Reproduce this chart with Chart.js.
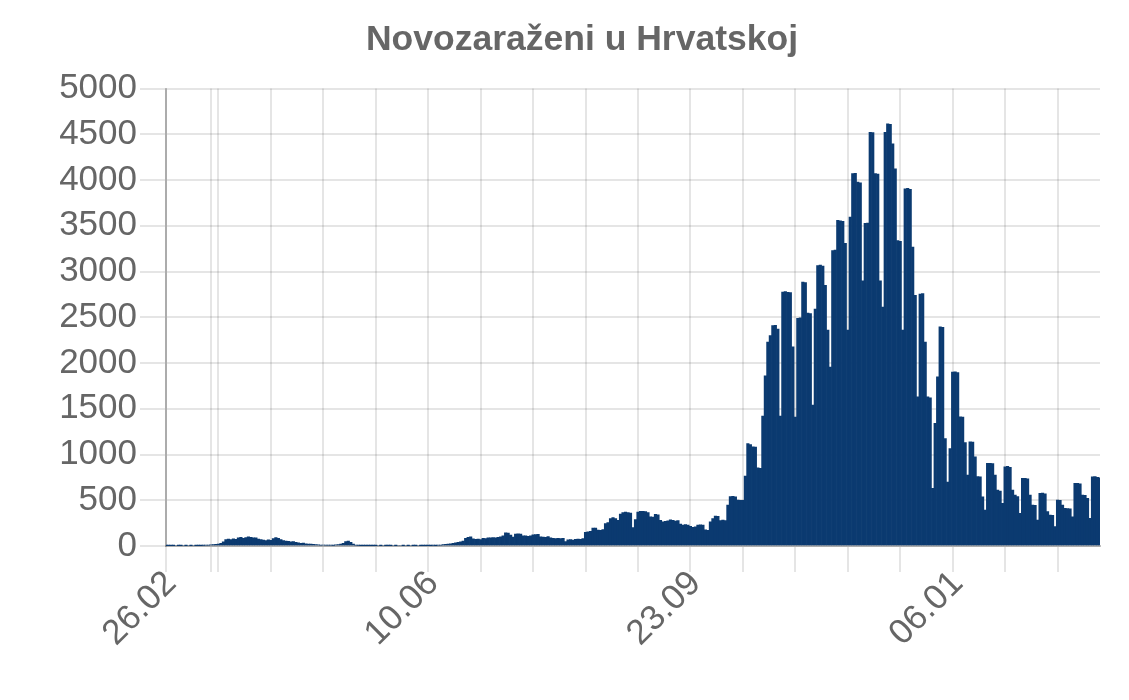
<!DOCTYPE html>
<html>
<head>
<meta charset="utf-8">
<script src="https://cdn.jsdelivr.net/npm/chart.js@4/dist/chart.umd.min.js"></script>
<style>
html,body{margin:0;padding:0;background:#ffffff;}
#wrap{width:1129px;height:700px;}
</style>
</head>
<body>
<div id="wrap"><canvas id="c" width="1129" height="700"></canvas></div>
<script>
// ---- data ----
const chartTitle = 'Novozaraženi u Hrvatskoj';
const startDate = '2020-02-26';          // first category (one bar per day)
const labeledDates = ['26.02.2020', '10.06.2020', '23.09.2020', '06.01.2021']; // x tick labels shown
const yMin = 0;
const yMax = 5000;
const yStep = 500;
const newCases = [
  1,1,2,1,0,1,1,0,1,0,
  1,0,2,3,4,6,8,10,12,15,
  18,22,30,45,70,75,70,78,72,90,
  95,85,92,100,96,88,90,75,70,65,
  60,68,62,80,92,85,70,60,55,50,
  45,48,40,35,30,32,25,22,20,18,
  15,12,10,11,9,8,10,7,12,15,
  20,30,48,55,40,22,10,6,4,3,
  2,3,1,2,1,0,1,0,1,2,
  1,0,1,0,0,1,0,1,0,2,
  1,0,1,2,1,2,3,5,4,8,
  10,15,18,20,25,30,35,40,45,55,
  85,95,100,78,72,75,70,85,80,88,
  90,92,88,95,100,110,145,142,120,98,
  130,133,130,112,110,105,112,122,125,128,
  100,98,95,102,88,85,80,85,82,84,
  48,68,70,66,72,75,74,80,150,155,
  160,195,195,175,170,180,245,255,300,310,
  300,280,350,365,370,365,360,200,290,370,
  380,378,375,365,320,315,345,340,280,265,
  270,275,285,280,272,278,240,230,235,228,
  215,205,210,230,232,228,178,172,265,300,
  327,325,277,282,278,448,540,542,538,502,
  498,500,765,1120,1110,1085,1080,855,850,1420,
  1860,2230,2300,2410,2412,2370,1420,2776,2780,2772,
  2770,2176,1410,2490,2495,2886,2880,2545,2540,1540,
  2590,3065,3070,3060,2850,2360,1957,3230,3235,3560,
  3555,3550,3308,2360,3595,4070,4075,3977,3970,2900,
  3526,3530,4523,4520,4070,4065,2900,2612,4523,4614,
  4610,4396,4123,3340,3330,2360,3905,3910,3900,3268,
  2740,1630,2755,2760,2230,1630,1620,630,1340,1850,
  2395,2390,1175,700,1066,1900,1903,1895,1412,1408,
  1130,775,1138,1135,975,760,755,538,393,903,
  905,900,775,611,600,466,866,870,860,611,
  557,540,357,739,740,735,557,448,445,284,
  575,578,570,375,338,335,211,502,500,448,
  411,410,405,320,684,684,680,557,555,520,
  302,757,760,750,745
];

// ---- categories: one per day from startDate ----
function pad(n){ return (n < 10 ? '0' : '') + n; }
const categories = [];
{
  const d0 = new Date(startDate + 'T12:00:00Z');
  for (let i = 0; i < newCases.length; i++) {
    const d = new Date(d0.getTime() + i * 86400000);
    categories.push(pad(d.getUTCDate()) + '.' + pad(d.getUTCMonth() + 1) + '.' + d.getUTCFullYear());
  }
}

// ---- styling ----
const FONT = "'Liberation Sans', Arial, Helvetica, sans-serif";
const TEXT = '#666666';
const BAR = '#0b3a70';
const GRID = 'rgba(0,0,0,0.1)';
const AXIS = 'rgba(0,0,0,0.25)';
const GRID_EVERY = 21;     // vertical grid every 21 days
const EXTRA_GRID = 18;     // an extra early vertical gridline seen in the reference

// shift the title block so it is centred where the reference places it
const titleShift = {
  id: 'titleShift',
  afterLayout(chart) {
    const t = chart.titleBlock;
    if (t) { t.left += 64; }
  }
};

new Chart(document.getElementById('c'), {
  type: 'bar',
  data: {
    labels: categories,
    datasets: [{
      data: newCases,
      backgroundColor: BAR,
      borderWidth: 0,
      barPercentage: 1,
      categoryPercentage: 1
    }]
  },
  plugins: [titleShift],
  options: {
    responsive: false,
    animation: false,
    devicePixelRatio: 1,
    layout: { padding: { left: 0, right: 29, top: 0, bottom: 0 } },
    plugins: {
      legend: { display: false },
      tooltip: { enabled: false },
      title: {
        display: true,
        text: chartTitle,
        color: TEXT,
        font: { family: FONT, size: 35.5, weight: 'bold', lineHeight: 1.2 },
        padding: { top: 19, bottom: 27 }
      }
    },
    scales: {
      x: {
        offset: false,
        grid: {
          offset: false,
          lineWidth: 2,
          tickLength: 26,
          color: (ctx) => (ctx.index % GRID_EVERY === 0 || ctx.index === EXTRA_GRID) ? GRID : 'rgba(0,0,0,0)'
        },
        border: { display: true, color: AXIS, width: 2 },
        ticks: {
          autoSkip: false,
          maxRotation: 45,
          minRotation: 45,
          padding: -9,
          labelOffset: 5,
          color: TEXT,
          font: { family: FONT, size: 35 },
          callback: function (value) {
            const lab = this.getLabelForValue(value);
            return labeledDates.includes(lab) ? lab.slice(0, 5) : '';
          }
        },
        afterFit: (s) => { s.height = 154; }
      },
      y: {
        min: yMin,
        max: yMax,
        grid: { color: GRID, lineWidth: 2, tickLength: 26 },
        border: { display: true, color: AXIS, width: 2 },
        ticks: {
          stepSize: yStep,
          padding: 3,
          color: TEXT,
          font: { family: FONT, size: 35 },
          callback: (v) => String(v)
        },
        afterFit: (s) => { s.width = 166; }
      }
    }
  }
});
</script>
</body>
</html>
